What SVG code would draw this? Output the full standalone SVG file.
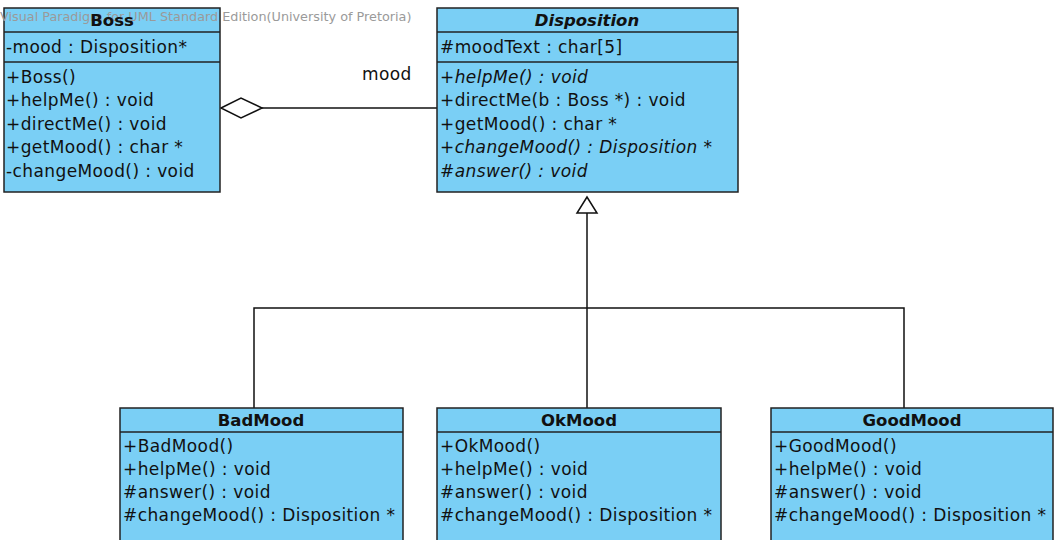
<svg xmlns="http://www.w3.org/2000/svg" width="1054" height="540" viewBox="0 0 1054 540">
<style>
.box{fill:#7acff5;stroke:#222;stroke-width:1.5}
.sep{stroke:#222;stroke-width:1.5}
.t{font-family:"DejaVu Sans",sans-serif;font-size:17px;letter-spacing:0.4px;fill:#111}
.h{font-family:"DejaVu Sans",sans-serif;font-size:16.5px;font-weight:bold;fill:#111;text-anchor:middle}
.i{font-style:italic}
.ln{fill:none;stroke:#111;stroke-width:1.5}
.wm{font-family:"DejaVu Sans",sans-serif;font-size:12.8px;fill:#9a9a9a}
</style>
<rect width="1054" height="540" fill="#fff"/>
<g id="connectors">
<line class="ln" x1="262" y1="108" x2="437" y2="108"/>
<polygon points="221,108 241,98 262,108 241,118" fill="#fff" stroke="#111" stroke-width="1.5"/>
<text class="t" x="362" y="80">mood</text>
<polyline class="ln" points="254,408 254,308 904,308 904,408"/>
<line class="ln" x1="587" y1="213" x2="587" y2="408"/>
<polygon points="587,197 577,213 597,213" fill="#fff" stroke="#111" stroke-width="1.5"/>
</g>
<g id="Boss">
<rect class="box" x="4" y="8" width="216" height="184"/>
<line class="sep" x1="4" y1="32" x2="220" y2="32"/>
<line class="sep" x1="4" y1="62" x2="220" y2="62"/>
<text class="wm" x="0" y="21">Visual Paradigm for UML Standard Edition(University of Pretoria)</text>
<text class="h" x="112" y="26">Boss</text>
<text class="t" x="6" y="53">-mood : Disposition*</text>
<text class="t" x="6" y="83">+Boss()</text>
<text class="t" x="6" y="106">+helpMe() : void</text>
<text class="t" x="6" y="130">+directMe() : void</text>
<text class="t" x="6" y="153">+getMood() : char *</text>
<text class="t" x="6" y="177">-changeMood() : void</text>
</g>
<g id="Disposition">
<rect class="box" x="437" y="8" width="301" height="184"/>
<line class="sep" x1="437" y1="32" x2="738" y2="32"/>
<line class="sep" x1="437" y1="62" x2="738" y2="62"/>
<text class="h i" x="587" y="26">Disposition</text>
<text class="t" x="440" y="53">#moodText : char[5]</text>
<text class="t i" x="440" y="83">+helpMe() : void</text>
<text class="t" x="440" y="106">+directMe(b : Boss *) : void</text>
<text class="t" x="440" y="130">+getMood() : char *</text>
<text class="t i" x="440" y="153">+changeMood() : Disposition *</text>
<text class="t i" x="440" y="177">#answer() : void</text>
</g>
<g id="BadMood">
<rect class="box" x="120" y="408" width="283" height="140"/>
<line class="sep" x1="120" y1="432" x2="403" y2="432"/>
<text class="h" x="261" y="426">BadMood</text>
<text class="t" x="123" y="452">+BadMood()</text>
<text class="t" x="123" y="475">+helpMe() : void</text>
<text class="t" x="123" y="498">#answer() : void</text>
<text class="t" x="123" y="521">#changeMood() : Disposition *</text>
</g>
<g id="OkMood">
<rect class="box" x="437" y="408" width="284" height="140"/>
<line class="sep" x1="437" y1="432" x2="721" y2="432"/>
<text class="h" x="579" y="426">OkMood</text>
<text class="t" x="440" y="452">+OkMood()</text>
<text class="t" x="440" y="475">+helpMe() : void</text>
<text class="t" x="440" y="498">#answer() : void</text>
<text class="t" x="440" y="521">#changeMood() : Disposition *</text>
</g>
<g id="GoodMood">
<rect class="box" x="771" y="408" width="282" height="140"/>
<line class="sep" x1="771" y1="432" x2="1053" y2="432"/>
<text class="h" x="912" y="426">GoodMood</text>
<text class="t" x="774" y="452">+GoodMood()</text>
<text class="t" x="774" y="475">+helpMe() : void</text>
<text class="t" x="774" y="498">#answer() : void</text>
<text class="t" x="774" y="521">#changeMood() : Disposition *</text>
</g>
</svg>
